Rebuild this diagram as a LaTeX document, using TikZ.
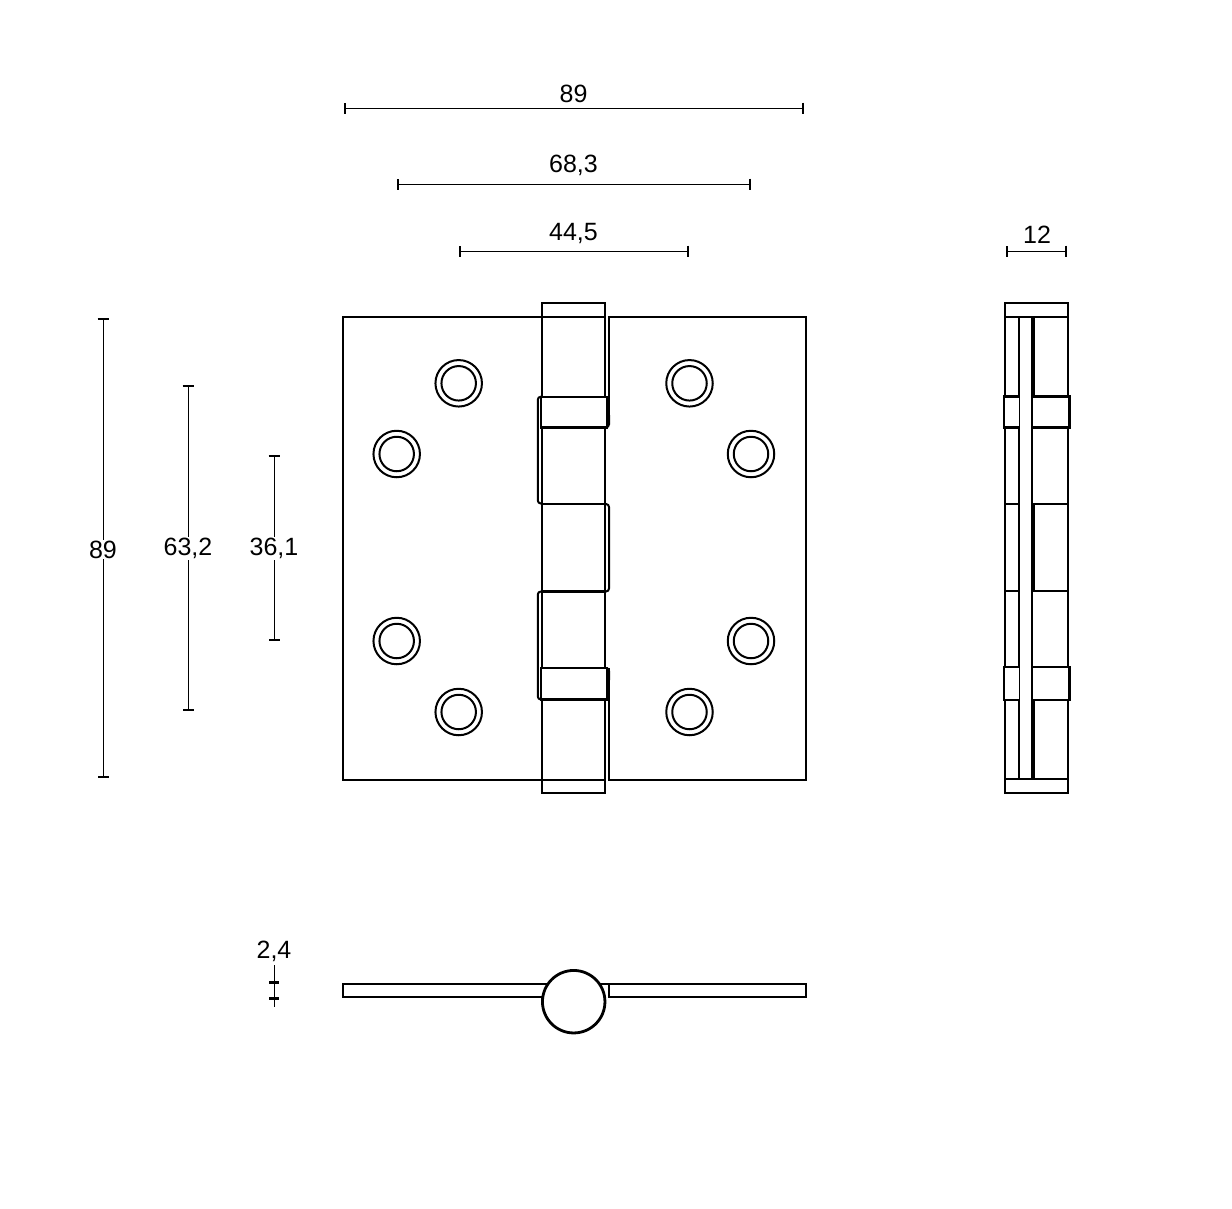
\documentclass[tikz,border=0pt]{standalone}
\usepackage{fontspec}
\setmainfont{Liberation Sans}
\usetikzlibrary{arrows.meta}

\tikzset{
  part/.style={draw,line width=2pt},
  heavy/.style={draw,line width=2.4pt},
  dim/.style={draw,line width=0.9pt,{Bar[width=11pt,line width=2.4pt]}-{Bar[width=11pt,line width=2.4pt]},shorten <=-1pt,shorten >=-1pt},
  dimtext/.style={font=\fontsize{25}{30}\selectfont,inner sep=1pt,text=black},
  hole/.style={circle,draw,line width=2pt,inner sep=0pt,minimum size=#1}
}

\begin{document}
\begin{tikzpicture}[x=1pt,y=-1pt]
\useasboundingbox (0,0) rectangle (1232,1208);

% dimensions above the front view
\coordinate (top a) at (345,108);   \coordinate (top b) at (803,108);
\coordinate (mid a) at (398,184);   \coordinate (mid b) at (750,184);
\coordinate (low a) at (460,251);   \coordinate (low b) at (688,251);
\coordinate (side a) at (1007,251); \coordinate (side b) at (1066,251);
\draw[dim] (top a) -- (top b);
\draw[dim] (mid a) -- (mid b);
\draw[dim] (low a) -- (low b);
\draw[dim] (side a) -- (side b);
\node[dimtext] (top label) at (573.5,93.5) {89};
\node[dimtext] (mid label) at (573.5,165.5) {68,3};
\node[dimtext] (low label) at (573.5,233.5) {44,5};
\node[dimtext] (side label) at (1037,235) {12};

% dimensions left of the front view
\coordinate (h1 a) at (103,319); \coordinate (h1 b) at (103,777);
\coordinate (h2 a) at (188,386); \coordinate (h2 b) at (188,710);
\coordinate (h3 a) at (274,456); \coordinate (h3 b) at (274,640);
\draw[dim] (h1 a) -- (h1 b);
\draw[dim] (h2 a) -- (h2 b);
\draw[dim] (h3 a) -- (h3 b);
\node[dimtext,fill=white] (h1 label) at (103,549.5) {89};
\node[dimtext,fill=white] (h2 label) at (188,548.5) {63,2};
\node[dimtext,fill=white] (h3 label) at (274,548.5) {36,1};

% thickness dimension
\coordinate (thick a) at (274,965); \coordinate (thick b) at (274,1006.5);
\draw[line width=0.9pt] (thick a) -- (thick b);
\draw[line width=2.4pt] (269,982.5) -- (279,982.5);
\draw[line width=2.4pt] (269,998.5) -- (279,998.5);
\node[dimtext] (thick label) at (274,951.5) {2,4};

% front view: leaves
\draw[part] (605,317) -- (342.5,317) -- (342.5,779.5) -- (605,779.5);
\draw[part] (609,668) -- (609,779.5) -- (805.5,779.5) -- (805.5,317) -- (609,317) -- (609,420);

% front view: pin
\draw[part] (542.3,303.3) rectangle (605,793.3);
\draw[part,rounded corners=3pt] (605,427.3) -- (609,427.3) -- (609,415);
\draw[part,rounded corners=3pt] (605,668) -- (609,668) -- (609,680);
\draw[part,rounded corners=3pt] (605,504) -- (609,504) -- (609,591.5) -- (605,591.5);
\draw[part,rounded corners=3pt] (542,396.7) -- (537.8,396.7) -- (537.8,503.5) -- (542,503.5);
\draw[part,rounded corners=3pt] (542,591.5) -- (537.8,591.5) -- (537.8,699.5) -- (542,699.5);
\draw[heavy] (542,504) -- (605,504);
\draw[heavy] (542,591.5) -- (605,591.5);

% front view: bands
\draw[heavy,fill=white] (541,396.7) rectangle (606.7,427.3);
\draw[heavy,fill=white] (541,668) rectangle (606.7,699.5);

% screw holes
\foreach \name/\px/\py in {a/458.7/383.3, b/396.7/454, c/396.7/641, d/458.7/712,
                           e/689.5/383.3, f/751/454, g/751/641, h/689.5/712} {
  \node[hole=46.5pt] (outer \name) at (\px,\py) {};
  \node[hole=34.5pt] (inner \name) at (\px,\py) {};
}

% side view
\draw[part] (1005.3,303.3) rectangle (1067.7,792.7);
\draw[part] (1005.3,316.7) -- (1067.7,316.7);
\draw[part] (1005.3,778.7) -- (1067.7,778.7);
\draw[line width=2.6pt] (1019,317) -- (1019,778.7);
\draw[line width=2pt] (1031.7,317) -- (1031.7,778.7);
\draw[line width=2pt] (1033.7,317) -- (1033.7,396);
\draw[line width=2pt] (1033.7,504.3) -- (1033.7,591);
\draw[line width=2pt] (1033.7,700) -- (1033.7,778.7);
\foreach \py in {504.3,591} {
  \draw[part] (1005.3,\py) -- (1019,\py);
  \draw[part] (1031.7,\py) -- (1067.7,\py);
}
\foreach \py/\qy in {396.3/427.5,667/700} {
  \fill[white] (1004,\py) rectangle (1019,\qy);
  \fill[white] (1031.7,\py) rectangle (1069.3,\qy);
  \draw[heavy] (1019,\py) -- (1004,\py) -- (1004,\qy) -- (1019,\qy);
  \draw[heavy] (1031.7,\py) -- (1069.3,\py) -- (1069.3,\qy) -- (1031.7,\qy);
  \draw[line width=2pt] (1031.7,\py) -- (1031.7,\qy);
}

% bottom view
\draw[part] (560,983.7) -- (342.5,983.7) -- (342.5,996.7) -- (560,996.7);
\draw[part] (595,983.7) -- (609,983.7);
\draw[part] (609,983.7) rectangle (805.5,996.7);
\node[circle,draw,line width=2.8pt,fill=white,inner sep=0pt,minimum size=62.5pt] (pin) at (573.7,1001.7) {};
\end{tikzpicture}
\end{document}
